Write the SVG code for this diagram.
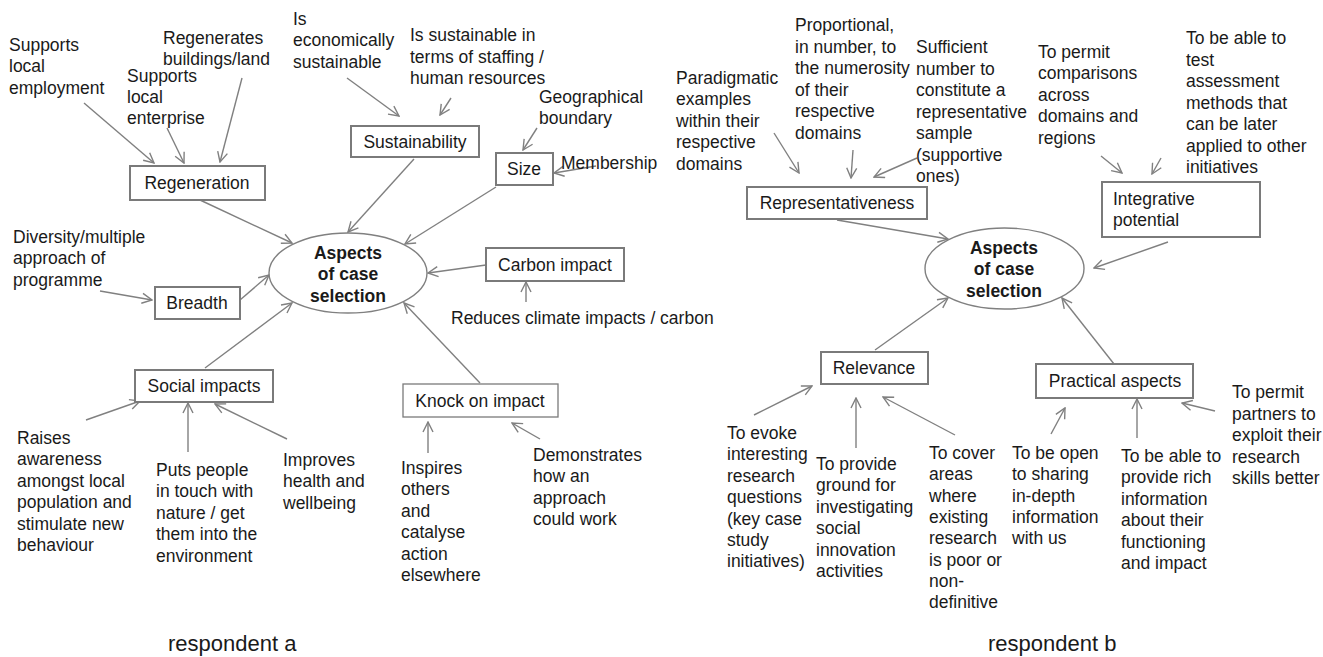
<svg xmlns="http://www.w3.org/2000/svg" width="1323" height="657" viewBox="0 0 1323 657">
<style>
text{font-family:"Liberation Sans",Arial,sans-serif;font-size:17.5px;fill:#1a1a1a}
.c{text-anchor:middle}
.b{font-weight:bold}
.big{font-size:22px}
.box{fill:#fff;stroke:#7a7a7a;stroke-width:2}
.thin{stroke-width:1.3}
.ell{fill:#fff;stroke:#808080;stroke-width:1.4}
.ln{stroke:#808080;stroke-width:1.4;fill:none;marker-end:url(#ah)}
</style>
<defs>
<marker id="ah" viewBox="0 0 12 12" markerWidth="12" markerHeight="12" markerUnits="userSpaceOnUse" orient="auto" refX="11" refY="6">
<path d="M1,1 L11,6 L1,11" fill="none" stroke="#808080" stroke-width="1.4"/>
</marker>
</defs>
<rect width="1323" height="657" fill="#fff"/>

<g id="connectors">
<line class="ln" x1="84" y1="103" x2="154" y2="163"/>
<line class="ln" x1="167" y1="128" x2="184" y2="163"/>
<line class="ln" x1="242" y1="78" x2="220" y2="162"/>
<line class="ln" x1="200" y1="200" x2="292" y2="243"/>
<line class="ln" x1="347" y1="78" x2="399" y2="116"/>
<line class="ln" x1="451" y1="98" x2="440" y2="115"/>
<line class="ln" x1="537" y1="128" x2="523" y2="150"/>
<line class="ln" x1="596" y1="166" x2="554" y2="173"/>
<line class="ln" x1="414" y1="159" x2="348" y2="232"/>
<line class="ln" x1="496" y1="187" x2="405" y2="244"/>
<line class="ln" x1="100" y1="291" x2="152" y2="300"/>
<line class="ln" x1="240" y1="300" x2="269" y2="275"/>
<line class="ln" x1="205" y1="368" x2="292" y2="303"/>
<line class="ln" x1="86" y1="420" x2="140" y2="401"/>
<line class="ln" x1="188" y1="452" x2="188" y2="403"/>
<line class="ln" x1="287" y1="439" x2="215" y2="404"/>
<line class="ln" x1="486" y1="265" x2="428" y2="273"/>
<line class="ln" x1="526" y1="302" x2="526" y2="282"/>
<line class="ln" x1="480" y1="383" x2="404" y2="303"/>
<line class="ln" x1="428" y1="453" x2="428" y2="422"/>
<line class="ln" x1="540" y1="439" x2="512" y2="423"/>
<line class="ln" x1="774" y1="133" x2="799" y2="173"/>
<line class="ln" x1="853" y1="150" x2="851" y2="178"/>
<line class="ln" x1="917" y1="158" x2="874" y2="177"/>
<line class="ln" x1="837" y1="220" x2="948" y2="239"/>
<line class="ln" x1="1101" y1="156" x2="1122" y2="173"/>
<line class="ln" x1="1161" y1="158" x2="1152" y2="174"/>
<line class="ln" x1="1168" y1="242" x2="1094" y2="268"/>
<line class="ln" x1="875" y1="350" x2="948" y2="298"/>
<line class="ln" x1="754" y1="415" x2="812" y2="386"/>
<line class="ln" x1="856" y1="448" x2="856" y2="398"/>
<line class="ln" x1="955" y1="435" x2="883" y2="397"/>
<line class="ln" x1="1114" y1="364" x2="1062" y2="298"/>
<line class="ln" x1="1051" y1="434" x2="1065" y2="408"/>
<line class="ln" x1="1137" y1="438" x2="1137" y2="399"/>
<line class="ln" x1="1215" y1="411" x2="1182" y2="403"/>
</g>

<g id="center-a">
<ellipse class="ell" cx="348" cy="273" rx="79" ry="40"/>
<text class="c b" x="348" y="259">Aspects<tspan x="348" dy="21.4">of case</tspan><tspan x="348" dy="21.4">selection</tspan></text>
</g>
<g id="regeneration"><rect class="box" x="130" y="166" width="135" height="34"/><text class="c" x="197" y="189">Regeneration</text></g>
<g id="sustainability"><rect class="box" x="351" y="126" width="128" height="31"/><text class="c" x="415" y="148">Sustainability</text></g>
<g id="size"><rect class="box" x="496" y="153" width="57" height="32"/><text class="c" x="524" y="175">Size</text></g>
<g id="breadth"><rect class="box" x="155" y="287" width="85" height="32"/><text class="c" x="197" y="309">Breadth</text></g>
<g id="social-impacts"><rect class="box" x="135" y="370" width="138" height="32"/><text class="c" x="204" y="392">Social impacts</text></g>
<g id="carbon-impact"><rect class="box" x="486" y="248" width="138" height="33"/><text class="c" x="555" y="271">Carbon impact</text></g>
<g id="knock-on-impact"><rect class="box thin" x="403" y="384" width="155" height="33"/><text class="c" x="480" y="407">Knock on impact</text></g>

<g id="t-employment"><text x="9" y="51">Supports<tspan x="9" dy="21.4">local</tspan><tspan x="9" dy="21.4">employment</tspan></text></g>
<g id="t-enterprise"><text x="127" y="82">Supports<tspan x="127" dy="21.2">local</tspan><tspan x="127" dy="21.2">enterprise</tspan></text></g>
<g id="t-buildings"><text x="163" y="44">Regenerates<tspan x="163" dy="21.2">buildings/land</tspan></text></g>
<g id="t-economic"><text x="293" y="25">Is<tspan x="293" dy="21.4">economically</tspan><tspan x="293" dy="21.4">sustainable</tspan></text></g>
<g id="t-staffing"><text x="410" y="41">Is sustainable in<tspan x="410" dy="21.6">terms of staffing /</tspan><tspan x="410" dy="21.6">human resources</tspan></text></g>
<g id="t-geo"><text x="539" y="103">Geographical<tspan x="539" dy="21.4">boundary</tspan></text></g>
<g id="t-membership"><text x="561" y="169">Membership</text></g>
<g id="t-diversity"><text x="13" y="243">Diversity/multiple<tspan x="13" dy="21.4">approach of</tspan><tspan x="13" dy="21.4">programme</tspan></text></g>
<g id="t-reduces"><text x="451" y="324">Reduces climate impacts / carbon</text></g>
<g id="t-raises"><text x="17" y="444">Raises<tspan x="17" dy="21.4">awareness</tspan><tspan x="17" dy="21.4">amongst local</tspan><tspan x="17" dy="21.4">population and</tspan><tspan x="17" dy="21.4">stimulate new</tspan><tspan x="17" dy="21.4">behaviour</tspan></text></g>
<g id="t-puts"><text x="156" y="476">Puts people<tspan x="156" dy="21.4">in touch with</tspan><tspan x="156" dy="21.4">nature / get</tspan><tspan x="156" dy="21.4">them into the</tspan><tspan x="156" dy="21.4">environment</tspan></text></g>
<g id="t-improves"><text x="283" y="466">Improves<tspan x="283" dy="21.4">health and</tspan><tspan x="283" dy="21.4">wellbeing</tspan></text></g>
<g id="t-inspires"><text x="401" y="474">Inspires<tspan x="401" dy="21.4">others</tspan><tspan x="401" dy="21.4">and</tspan><tspan x="401" dy="21.4">catalyse</tspan><tspan x="401" dy="21.4">action</tspan><tspan x="401" dy="21.4">elsewhere</tspan></text></g>
<g id="t-demonstrates"><text x="533" y="461">Demonstrates<tspan x="533" dy="21.4">how an</tspan><tspan x="533" dy="21.4">approach</tspan><tspan x="533" dy="21.4">could work</tspan></text></g>
<g id="label-a"><text class="big" x="168" y="651">respondent a</text></g>

<g id="center-b">
<ellipse class="ell" cx="1004.5" cy="268.5" rx="79.5" ry="40.5"/>
<text class="c b" x="1004" y="254">Aspects<tspan x="1004" dy="21.4">of case</tspan><tspan x="1004" dy="21.4">selection</tspan></text>
</g>
<g id="representativeness"><rect class="box" x="747" y="187" width="180" height="32"/><text class="c" x="837" y="209">Representativeness</text></g>
<g id="integrative-potential"><rect class="box" x="1102" y="182" width="158" height="55"/><text x="1113" y="205">Integrative<tspan x="1113" dy="21.4">potential</tspan></text></g>
<g id="relevance"><rect class="box" x="821" y="352" width="107" height="32"/><text class="c" x="874" y="374">Relevance</text></g>
<g id="practical-aspects"><rect class="box" x="1036" y="364" width="157" height="34"/><text class="c" x="1115" y="387">Practical aspects</text></g>

<g id="t-paradigmatic"><text x="676" y="84">Paradigmatic<tspan x="676" dy="21.4">examples</tspan><tspan x="676" dy="21.4">within their</tspan><tspan x="676" dy="21.4">respective</tspan><tspan x="676" dy="21.4">domains</tspan></text></g>
<g id="t-proportional"><text x="795" y="31">Proportional,<tspan x="795" dy="21.6">in number, to</tspan><tspan x="795" dy="21.6">the numerosity</tspan><tspan x="795" dy="21.6">of their</tspan><tspan x="795" dy="21.6">respective</tspan><tspan x="795" dy="21.6">domains</tspan></text></g>
<g id="t-sufficient"><text x="916" y="53">Sufficient<tspan x="916" dy="21.5">number to</tspan><tspan x="916" dy="21.5">constitute a</tspan><tspan x="916" dy="21.5">representative</tspan><tspan x="916" dy="21.5">sample</tspan><tspan x="916" dy="21.5">(supportive</tspan><tspan x="916" dy="21.5">ones)</tspan></text></g>
<g id="t-comparisons"><text x="1038" y="58">To permit<tspan x="1038" dy="21.4">comparisons</tspan><tspan x="1038" dy="21.4">across</tspan><tspan x="1038" dy="21.4">domains and</tspan><tspan x="1038" dy="21.4">regions</tspan></text></g>
<g id="t-test"><text x="1186" y="44">To be able to<tspan x="1186" dy="21.5">test</tspan><tspan x="1186" dy="21.5">assessment</tspan><tspan x="1186" dy="21.5">methods that</tspan><tspan x="1186" dy="21.5">can be later</tspan><tspan x="1186" dy="21.5">applied to other</tspan><tspan x="1186" dy="21.5">initiatives</tspan></text></g>
<g id="t-evoke"><text x="727" y="439">To evoke<tspan x="727" dy="21.4">interesting</tspan><tspan x="727" dy="21.4">research</tspan><tspan x="727" dy="21.4">questions</tspan><tspan x="727" dy="21.4">(key case</tspan><tspan x="727" dy="21.4">study</tspan><tspan x="727" dy="21.4">initiatives)</tspan></text></g>
<g id="t-ground"><text x="816" y="470">To provide<tspan x="816" dy="21.4">ground for</tspan><tspan x="816" dy="21.4">investigating</tspan><tspan x="816" dy="21.4">social</tspan><tspan x="816" dy="21.4">innovation</tspan><tspan x="816" dy="21.4">activities</tspan></text></g>
<g id="t-cover"><text x="929" y="459">To cover<tspan x="929" dy="21.3">areas</tspan><tspan x="929" dy="21.3">where</tspan><tspan x="929" dy="21.3">existing</tspan><tspan x="929" dy="21.3">research</tspan><tspan x="929" dy="21.3">is poor or</tspan><tspan x="929" dy="21.3">non-</tspan><tspan x="929" dy="21.3">definitive</tspan></text></g>
<g id="t-open"><text x="1012" y="459">To be open<tspan x="1012" dy="21.3">to sharing</tspan><tspan x="1012" dy="21.3">in-depth</tspan><tspan x="1012" dy="21.3">information</tspan><tspan x="1012" dy="21.3">with us</tspan></text></g>
<g id="t-rich"><text x="1121" y="462">To be able to<tspan x="1121" dy="21.4">provide rich</tspan><tspan x="1121" dy="21.4">information</tspan><tspan x="1121" dy="21.4">about their</tspan><tspan x="1121" dy="21.4">functioning</tspan><tspan x="1121" dy="21.4">and impact</tspan></text></g>
<g id="t-partners"><text x="1232" y="398">To permit<tspan x="1232" dy="21.5">partners to</tspan><tspan x="1232" dy="21.5">exploit their</tspan><tspan x="1232" dy="21.5">research</tspan><tspan x="1232" dy="21.5">skills better</tspan></text></g>
<g id="label-b"><text class="big" x="988" y="651">respondent b</text></g>
</svg>
